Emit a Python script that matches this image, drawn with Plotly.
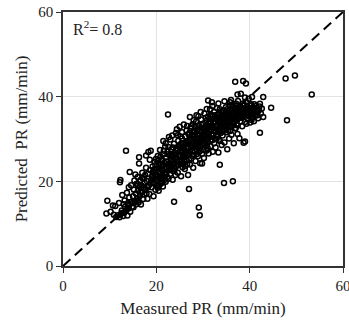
import plotly.graph_objects as go

# Hand-estimated (measured, predicted) pairs, by band of measured PR
band_09_15 = [(9.3,12.4),(9.5,15.4),(10.7,14.3),(10.2,12.8),(10.9,12.1),(11.4,11.6),(11.8,12.0),(12.1,11.5),(12.4,12.3),
    (12.2,19.8),(12.3,20.3),(12.6,13.1),(12.9,11.8),(13.1,12.6),(13.3,14.0),(13.5,27.2),(13.2,15.5),(13.6,13.2),(13.8,11.9),
    (13.9,14.8),(14.0,13.6),(14.2,16.2),(14.3,22.2),(14.4,12.8),(14.5,15.1),(14.1,18.6),(13.0,14.6),(12.0,14.9),(11.2,14.2),
    (12.7,16.8),(13.7,17.3),(14.6,19.1),(14.8,14.0)]
band_15_19 = [(15.0,16.5),(15.1,13.9),(15.2,18.0),(15.3,20.2),(15.4,15.2),(15.6,17.1),(15.7,14.6),(15.8,19.4),(15.9,16.0),
    (16.0,21.0),(16.1,17.8),(16.2,15.0),(16.3,25.7),(16.3,24.2),(16.4,18.9),(16.5,16.6),(16.6,20.3),(16.7,14.5),(16.8,19.0),
    (16.9,17.4),(17.0,22.0),(17.1,18.4),(17.2,15.8),(17.3,20.6),(17.4,16.9),(17.5,19.7),(17.6,21.5),(17.7,18.0),(17.8,26.1),
    (17.8,23.2),(17.9,17.1),(18.0,20.0),(18.1,15.9),(18.3,26.9),(18.8,27.2),(18.6,25.1),(18.2,21.8),(18.4,19.1),(18.5,17.0),
    (18.7,22.7),(18.9,20.4),(15.5,21.6),(16.0,19.0),(17.0,20.8)]
band_19_23 = [(19.0,18.6),(19.1,21.2),(19.2,23.5),(19.3,19.8),(19.4,16.5),(19.5,22.1),(19.6,24.6),(19.7,20.5),(19.8,18.0),
    (19.9,25.3),(20.0,21.6),(20.1,23.0),(20.2,19.2),(20.3,26.0),(20.4,22.4),(20.5,17.8),(20.6,24.1),(20.7,20.8),(20.8,27.4),
    (20.9,22.9),(21.0,19.5),(21.1,25.0),(21.2,21.4),(21.3,23.7),(21.4,18.8),(21.5,26.4),(21.6,20.2),(21.7,24.4),(21.8,22.0),
    (21.9,28.2),(22.0,19.9),(22.1,25.7),(22.2,23.1),(22.3,21.0),(22.4,27.0),(22.5,35.8),(22.5,24.0),(22.6,20.6),(22.7,30.5),
    (22.8,22.6),(22.9,26.2),(19.2,20.7),(19.6,22.8),(20.2,21.0),(20.6,19.0),(21.0,23.9),(21.4,22.6),(21.8,20.9),(22.2,24.7),
    (19.8,23.8),(20.9,25.8),(21.6,27.2),(22.0,29.0),(20.4,24.9),(19.5,19.5),(21.2,20.0),(22.6,28.1)]
band_23_27 = [(23.0,21.8),(23.1,24.8),(23.2,27.6),(23.3,23.0),(23.4,30.8),(23.5,20.4),(23.6,25.9),(23.7,22.4),(23.8,15.2),
    (23.8,28.9),(23.9,24.2),(24.0,26.7),(24.1,21.5),(24.2,31.4),(24.3,23.6),(24.4,27.9),(24.5,25.1),(24.6,22.0),(24.7,29.6),
    (24.8,26.3),(24.9,23.9),(25.0,32.9),(25.1,28.3),(25.2,24.7),(25.3,21.2),(25.4,26.9),(25.5,30.1),(25.6,23.3),(25.7,28.8),
    (25.8,25.5),(25.9,33.4),(26.0,27.3),(26.1,22.9),(26.2,30.6),(26.3,25.0),(26.4,29.2),(26.5,32.0),(26.6,24.1),(26.7,27.8),
    (26.8,21.5),(26.9,31.1),(23.2,25.3),(23.6,28.0),(24.0,22.9),(24.4,24.6),(24.8,28.4),(25.2,30.6),(25.6,27.1),(26.0,25.8),
    (26.4,28.0),(23.4,26.4),(24.6,30.9),(25.8,24.1),(26.6,26.4),(23.9,23.0),(25.0,26.0),(26.2,23.6)]
band_27_30 = [(27.0,18.2),(27.0,26.6),(27.1,29.7),(27.2,35.2),(27.2,24.0),(27.3,32.6),(27.4,28.0),(27.5,25.4),(27.6,30.9),
    (27.7,27.1),(27.8,33.5),(27.9,23.2),(28.0,29.3),(28.1,26.2),(28.2,31.8),(28.3,28.6),(28.4,24.8),(28.5,34.1),(28.6,35.6),
    (28.6,30.0),(28.7,27.5),(28.8,32.3),(28.9,25.9),(29.0,29.0),(29.1,13.8),(29.1,33.2),(29.2,27.0),(29.3,12.0),(29.3,31.0),
    (29.4,24.3),(29.5,28.4),(29.6,34.6),(29.7,30.4),(29.8,26.5),(29.9,32.5),(30.0,29.6),(27.3,30.0),(27.7,29.0),(28.2,27.2),
    (28.8,29.8),(29.2,30.2),(29.6,31.6),(30.0,27.4),(27.5,33.0),(28.0,31.0),(28.4,33.0),(29.0,35.4),(29.8,24.2),(27.9,28.0),
    (28.6,26.4),(29.4,32.0),(30.0,33.6),(27.1,31.5),(28.9,28.1)]
band_30_34 = [(30.1,31.1),(30.2,25.5),(30.3,36.0),(30.4,28.8),(30.5,33.0),(30.6,30.0),(30.7,27.2),(30.8,34.4),(30.9,31.7),
    (31.0,29.2),(31.1,39.1),(31.1,35.2),(31.2,26.6),(31.3,32.9),(31.4,30.4),(31.5,37.0),(31.6,28.3),(31.7,33.8),(31.8,31.2),
    (31.9,38.7),(31.9,35.6),(32.0,29.7),(32.1,27.0),(32.2,34.0),(32.3,31.9),(32.4,36.4),(32.5,30.2),(32.6,33.1),(32.7,28.0),
    (32.8,35.0),(32.9,32.4),(33.0,37.3),(33.1,30.6),(33.2,34.3),(33.3,26.8),(33.4,32.0),(33.5,36.0),(33.6,23.9),(33.6,29.5),
    (33.7,33.6),(33.8,31.4),(33.9,35.5),(34.0,28.6),(30.2,32.2),(30.6,35.0),(31.0,33.0),(31.4,34.2),(31.8,29.8),(32.2,32.6),
    (32.6,35.6),(33.0,33.2),(33.4,35.0),(33.8,34.2),(30.4,30.6),(31.2,31.2),(32.0,33.0),(32.8,31.0),(33.2,31.8),(34.0,32.8),
    (30.8,28.6),(31.6,35.8),(32.4,29.0),(33.6,37.0),(34.0,36.3)]
band_34_38 = [(34.1,33.9),(34.2,30.8),(34.3,36.8),(34.4,34.7),(34.5,19.6),(34.5,32.1),(34.6,29.2),(34.7,35.7),(34.8,33.0),
    (34.9,37.5),(35.0,31.6),(35.1,35.2),(35.2,27.6),(35.3,34.0),(35.4,36.6),(35.5,32.7),(35.6,30.1),(35.7,37.9),(35.8,38.7),
    (35.8,34.9),(35.9,33.3),(36.0,36.0),(36.1,31.0),(36.2,35.3),(36.3,38.0),(36.4,20.0),(36.4,33.8),(36.5,36.9),(36.6,29.0),
    (36.7,34.6),(36.8,37.4),(36.9,43.5),(36.9,32.5),(37.0,35.8),(37.1,38.3),(37.2,33.5),(37.3,36.5),(37.4,40.5),(37.4,31.2),
    (37.5,34.9),(37.6,37.1),(37.7,35.4),(37.8,30.2),(37.9,36.7),(38.0,34.2),(38.1,40.7),(34.4,33.4),(35.0,34.6),(35.6,35.6),
    (36.2,33.0),(36.8,35.0),(37.4,36.0),(34.8,35.4),(35.4,32.0),(36.0,34.4),(36.6,36.2),(37.2,37.8),(37.8,36.0),(35.2,37.0),
    (36.4,37.6),(37.0,32.6),(38.0,37.6),(34.2,35.0)]
band_38_54 = [(38.2,35.0),(38.3,37.3),(38.4,33.0),(38.5,36.2),(38.6,43.7),(38.6,38.4),(38.7,29.1),(38.8,35.7),(38.9,37.0),
    (39.0,34.0),(39.1,36.6),(39.2,43.1),(39.2,38.8),(39.3,33.6),(39.4,35.9),(39.5,37.7),(39.6,34.8),(39.7,36.3),(39.8,39.5),
    (39.9,35.4),(40.0,37.0),(40.1,33.9),(40.2,36.0),(40.3,38.2),(40.4,34.5),(40.5,39.9),(40.5,36.6),(40.6,35.2),(40.7,37.5),
    (40.8,36.1),(40.9,34.2),(41.0,36.9),(41.2,35.5),(41.4,37.8),(41.6,36.3),(41.8,34.9),(42.0,36.8),(42.2,31.5),(42.2,38.3),
    (42.4,36.0),(42.6,37.2),(42.9,39.9),(42.9,35.2),(44.6,37.4),(48.0,34.4),(47.7,44.3),(49.7,45.0),(53.3,40.5),(38.9,38.0),
    (39.6,37.0),(40.0,35.6),(41.0,38.2),(38.4,36.4),(39.0,29.4)]
core_fill = [(19.3,22.3),(19.7,21.6),(20.1,20.3),(20.5,23.2),(20.9,21.1),(21.3,24.9),(21.7,23.0),(22.1,21.8),(22.5,26.4),
    (22.9,24.3),(23.3,26.0),(23.7,23.9),(24.1,25.6),(24.5,27.3),(24.9,25.0),(25.3,28.9),(25.7,26.2),(26.1,28.6),(26.5,26.9),
    (26.9,29.3),(27.3,27.4),(27.7,31.6),(28.1,29.9),(28.5,28.2),(28.9,30.9),(29.3,29.4),(29.7,33.3),(30.1,30.1),(30.5,31.9),
    (30.9,29.9),(31.3,33.7),(31.7,32.2),(32.1,35.3),(32.5,33.9),(32.9,30.0),(33.3,34.6),(33.7,32.1),(34.1,35.7),(34.5,34.0),
    (34.9,36.2),(35.3,35.5),(35.7,33.9),(36.1,37.0),(36.5,35.1),(36.9,36.8),(37.3,34.5),(37.7,37.6),(38.1,36.2),(38.5,35.3),
    (38.9,36.1),(39.3,37.2),(39.7,35.5),(40.1,36.8),(40.5,35.0),(40.9,37.3),(41.3,36.6),(41.7,35.6),(42.1,37.7),
    (20.3,18.5),(21.1,20.7),(21.9,21.5),(22.7,23.4),(23.5,24.6),(24.3,26.2),(25.1,27.2),(25.9,27.9),(26.7,29.6),(27.5,28.5),
    (28.3,30.8),(29.1,31.9),(29.9,30.9),(30.7,32.4),(31.5,31.8),(32.3,34.8),(33.1,35.7),(33.9,33.0),(34.7,34.3),(35.5,36.1),
    (36.3,34.7),(37.1,36.2),(37.9,35.1),(38.7,37.2),(39.5,36.0),(40.3,37.9),
    (24.6,24.0),(25.4,24.2),(26.2,26.7),(27.0,25.1),(27.8,26.0),(28.6,28.9),(29.4,27.8),(30.2,29.0),(31.0,27.9),(31.8,33.0),
    (32.6,31.8),(33.4,29.8),(34.2,31.7),(35.0,33.4),(35.8,31.9),(36.6,33.7),(37.4,33.2),
    (17.4,18.2),(18.2,18.6),(18.8,19.6),(16.6,17.6),(15.8,15.5),(15.0,14.9),(14.2,14.4),(13.4,13.0),(12.8,12.6),
    (21.5,29.5),(23.0,29.9),(24.4,32.3),(25.5,31.6),(26.6,33.1),(28.0,34.4),(29.5,36.4),(30.8,37.1),(32.0,37.8),
    (33.3,38.4),(34.6,38.9),(36.0,39.2),(37.5,39.0),(39.0,39.8)]

bands = [band_09_15, band_15_19, band_19_23, band_23_27, band_27_30, band_30_34, band_34_38, band_38_54, core_fill]
measured = [p[0] for b in bands for p in b]
predicted = [p[1] for b in bands for p in b]

axis_ticks = [0, 20, 40, 60]
r2_text = "R<sup>2</sup>= 0.8"
font_family = "Liberation Serif, Times New Roman, serif"

fig = go.Figure()
fig.add_trace(go.Scatter(x=[0, 60], y=[0, 60], mode="lines",
                         line=dict(color="black", width=2, dash="10px,6px"),
                         hoverinfo="skip", showlegend=False))
fig.add_trace(go.Scatter(x=measured, y=predicted, mode="markers",
                         marker=dict(symbol="circle-open", size=5, color="black",
                                     line=dict(width=1.5, color="black")),
                         showlegend=False))

axis_common = dict(range=[0, 60], tickvals=axis_ticks, showgrid=True, gridcolor="#e3e3e3",
                   gridwidth=1, showline=True, linecolor="#333333", linewidth=1.5, mirror=True,
                   ticks="outside", ticklen=5, tickcolor="#333333", zeroline=False, automargin=False,
                   ticklabeloverflow="allow",
                   tickfont=dict(family=font_family, size=15, color="#222"))

fig.update_xaxes(**axis_common,
                 title=dict(text="Measured PR (mm/min)", standoff=9,
                            font=dict(family=font_family, size=17, color="#222")))
fig.update_yaxes(**axis_common,
                 title=dict(text="Predicted&nbsp;&nbsp;PR (mm/min)", standoff=6,
                            font=dict(family=font_family, size=17, color="#222")))

fig.add_annotation(x=0.03, y=0.985, xref="paper", yref="paper", xanchor="left", yanchor="top",
                   text=r2_text, showarrow=False,
                   font=dict(family=font_family, size=16, color="#222"))

fig.update_layout(width=349, height=322, margin=dict(l=63, r=6, t=12, b=56),
                  plot_bgcolor="white", paper_bgcolor="white", showlegend=False)

fig.write_html("out.html", config={"displayModeBar": False},
               post_script="document.body.style.margin='0';document.body.style.padding='0';")
